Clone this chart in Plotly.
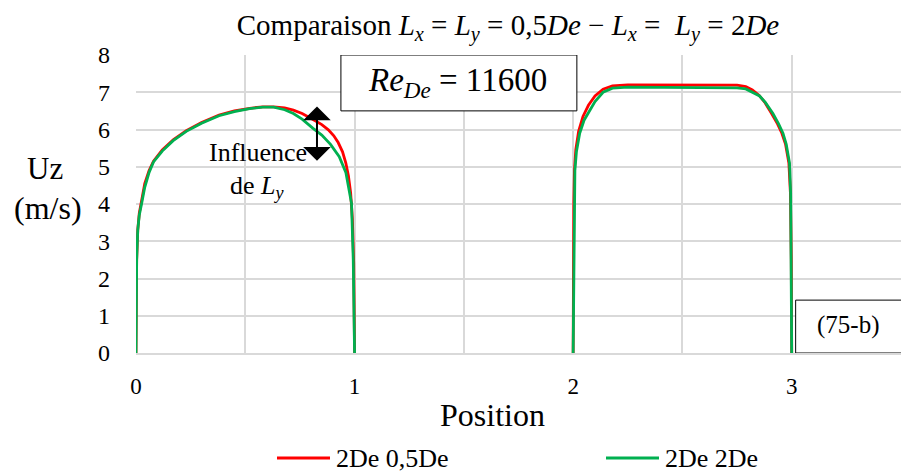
import plotly.graph_objects as go

# Velocity profiles Uz along the traverse (two passages: 0-1 and 2-3)
left_x_05 = [0, 0.001, 0.003, 0.008, 0.015, 0.026, 0.04, 0.06, 0.08, 0.12, 0.17, 0.23, 0.30, 0.38,
             0.45, 0.52, 0.58, 0.63, 0.68, 0.72, 0.76, 0.81, 0.85, 0.88, 0.905, 0.925, 0.945,
             0.96, 0.972, 0.982, 0.99, 0.996, 1.0]
left_y_05 = [0, 1.2, 2.5, 3.3, 3.75, 4.1, 4.55, 4.9, 5.15, 5.45, 5.72, 5.97, 6.19, 6.39,
             6.5, 6.57, 6.61, 6.61, 6.58, 6.52, 6.43, 6.27, 6.13, 5.99, 5.83, 5.65, 5.4,
             5.1, 4.75, 4.3, 3.6, 2.4, 0]

left_x_2 = [0, 0.001, 0.003, 0.008, 0.015, 0.026, 0.04, 0.06, 0.08, 0.12, 0.17, 0.23, 0.30, 0.38,
            0.45, 0.52, 0.58, 0.63, 0.68, 0.72, 0.76, 0.81, 0.85, 0.89, 0.93, 0.96, 0.975, 0.986,
            0.994, 0.998, 1.0]
left_y_2 = [0, 1.2, 2.5, 3.3, 3.7, 4.02, 4.45, 4.85, 5.13, 5.42, 5.7, 5.95, 6.17, 6.37,
            6.48, 6.56, 6.6, 6.6, 6.53, 6.43, 6.28, 6.03, 5.85, 5.6, 5.27, 4.85, 4.4, 4.02,
            2.5, 1.3, 0]

right_x_05 = [2.0, 2.001, 2.003, 2.006, 2.012, 2.025, 2.045, 2.07, 2.10, 2.137, 2.18, 2.25, 2.5,
              2.75, 2.79, 2.82, 2.85, 2.878, 2.908, 2.935, 2.955, 2.972, 2.987, 2.994, 2.998, 3.0]
right_y_05 = [0, 2.0, 4.0, 4.9, 5.45, 5.95, 6.35, 6.65, 6.9, 7.08, 7.17, 7.2, 7.2,
              7.19, 7.15, 7.06, 6.92, 6.72, 6.43, 6.15, 5.9, 5.6, 5.1, 4.3, 2.5, 0]

right_x_2 = [2.0, 2.002, 2.004, 2.008, 2.015, 2.03, 2.05, 2.076, 2.10, 2.137, 2.18, 2.25, 2.5,
             2.75, 2.79, 2.82, 2.853, 2.88, 2.914, 2.94, 2.96, 2.975, 2.99, 2.995, 2.998, 3.0]
right_y_2 = [0, 2.0, 4.0, 4.9, 5.4, 5.9, 6.25, 6.52, 6.75, 7.0, 7.11, 7.14, 7.14,
             7.12, 7.09, 7.01, 6.9, 6.72, 6.43, 6.15, 5.9, 5.6, 5.1, 4.3, 2.5, 0]

series_names = ["2De 0,5De", "2De 2De"]
series_colors = ["#FF0000", "#00B050"]

x_ticks = [0, 0.5, 1, 1.5, 2, 2.5, 3, 3.5]
x_tick_text = ["0", "", "1", "", "2", "", "3", ""]
y_ticks = [0, 1, 2, 3, 4, 5, 6, 7, 8]

FONT = "Liberation Serif, Times New Roman, serif"

# Plot-area geometry in pixels (used to place paper-referenced items)
PLOT_L, PLOT_R, PLOT_T, PLOT_B = 136, 901, 55, 353


def px_x(px):
    return (px - PLOT_L) / (PLOT_R - PLOT_L)


def px_y(py):
    return (PLOT_B - py) / (PLOT_B - PLOT_T)


def serif(size):
    return dict(family=FONT, size=size, color="black")


fig = go.Figure()
for name, color, lx, ly, rx, ry in [
    (series_names[0], series_colors[0], left_x_05, left_y_05, right_x_05, right_y_05),
    (series_names[1], series_colors[1], left_x_2, left_y_2, right_x_2, right_y_2),
]:
    fig.add_trace(go.Scatter(
        x=lx + [None] + rx, y=ly + [None] + ry, mode="lines", name=name,
        line=dict(color=color, width=2.8), connectgaps=False, showlegend=False,
    ))

fig.update_layout(
    width=901, height=476,
    margin=dict(l=PLOT_L, r=901 - PLOT_R, t=PLOT_T, b=476 - PLOT_B),
    plot_bgcolor="white", paper_bgcolor="white",
    font=serif(18),
    showlegend=False,
    title=dict(
        text="Comparaison <i>L</i><sub><i>x</i></sub> = <i>L</i><sub><i>y</i></sub> = 0,5<i>De</i> − "
             "<i>L</i><sub><i>x</i></sub> =  <i>L</i><sub><i>y</i></sub> = 2<i>De</i>",
        xref="container", yref="container", x=508 / 901, y=1 - 25 / 476,
        xanchor="center", yanchor="middle", font=serif(29),
    ),
)

fig.update_xaxes(range=[0, 3.5], tickvals=x_ticks, ticktext=x_tick_text,
                 showgrid=True, gridcolor="#D9D9D9", gridwidth=1.5,
                 zeroline=False, showline=True, linecolor="#D9D9D9", linewidth=1.5,
                 ticks="", ticklabelstandoff=12, tickfont=serif(23))
fig.update_yaxes(range=[0, 8], tickvals=y_ticks,
                 showgrid=True, gridcolor="#D9D9D9", gridwidth=1.5,
                 zeroline=False, showline=False,
                 ticks="", ticklabelstandoff=25, tickfont=serif(24))

# Axis titles
fig.add_annotation(text="Position", xref="paper", yref="paper",
                   x=px_x(492), y=px_y(415), showarrow=False,
                   font=serif(32), xanchor="center", yanchor="middle")
fig.add_annotation(text="Uz", xref="paper", yref="paper",
                   x=px_x(45), y=px_y(168), showarrow=False,
                   font=serif(31), xanchor="center", yanchor="middle")
fig.add_annotation(text="(m/s)", xref="paper", yref="paper",
                   x=px_x(48), y=px_y(208), showarrow=False,
                   font=serif(32), xanchor="center", yanchor="middle")

# Legend: coloured line sample followed by the series name
legend_line_x = [277, 606]
for name, color, lx0 in zip(series_names, series_colors, legend_line_x):
    fig.add_shape(type="line", xref="paper", yref="paper",
                  x0=px_x(lx0), x1=px_x(lx0 + 53), y0=px_y(458), y1=px_y(458),
                  line=dict(color=color, width=3))
    fig.add_annotation(text=name, xref="paper", yref="paper",
                       x=px_x(lx0 + 57), y=px_y(458), showarrow=False,
                       xanchor="left", yanchor="middle", font=serif(26))

# Reynolds number box
fig.add_shape(type="rect", xref="x", yref="y", x0=0.9375, x1=2.017, y0=6.5, y1=8.0,
              line=dict(color="black", width=1), fillcolor="white", layer="above")
fig.add_annotation(text="<i>Re</i><sub><i>De</i></sub> = 11600", xref="x", yref="y",
                   x=1.473, y=7.25, showarrow=False, font=serif(33))

# Figure label box
fig.add_shape(type="rect", xref="x", yref="y", x0=3.018, x1=3.52, y0=0, y1=1.42,
              line=dict(color="black", width=1), fillcolor="white", layer="above")
fig.add_annotation(text="(75-b)", xref="x", yref="y", x=3.256, y=0.75,
                   showarrow=False, font=serif(25))

# Influence of Ly: double arrow between the two profiles
fig.add_annotation(x=0.828, y=6.62, ax=0.828, ay=5.12, xref="x", yref="y",
                   axref="x", ayref="y", text="", showarrow=True,
                   arrowhead=1, startarrowhead=1, arrowside="end+start",
                   arrowsize=2.3, startarrowsize=2.3, arrowwidth=2, arrowcolor="black")
fig.add_annotation(text="Influence", xref="x", yref="y", x=0.558, y=5.37,
                   showarrow=False, font=serif(26))
fig.add_annotation(text="de <i>L</i><sub><i>y</i></sub>", xref="x", yref="y", x=0.556, y=4.45,
                   showarrow=False, font=serif(26))

fig.write_html("out.html")
